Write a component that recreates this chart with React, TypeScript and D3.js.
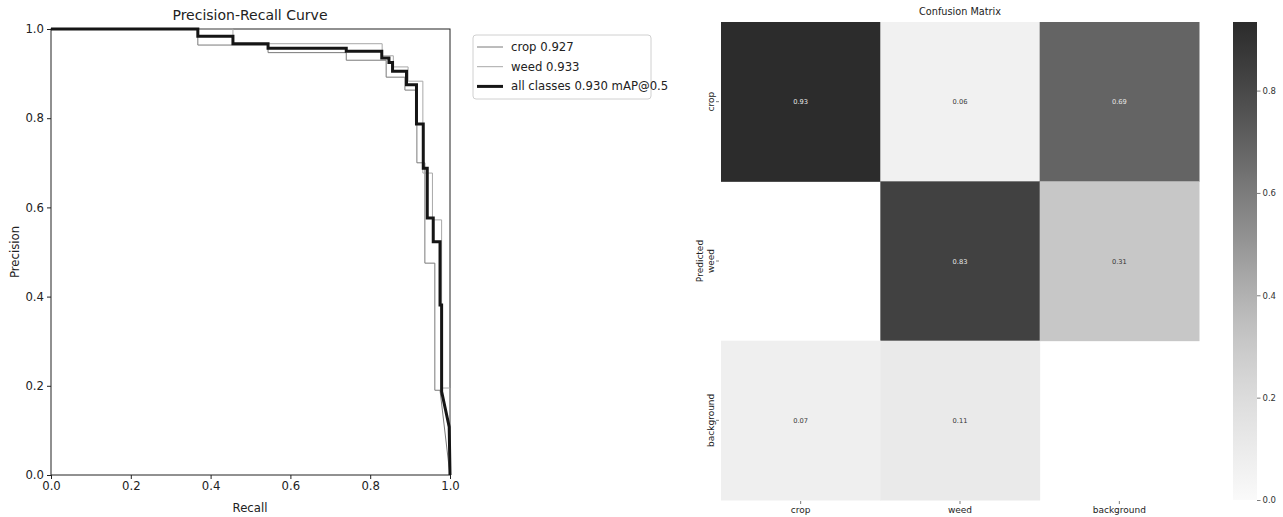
import { useEffect, useRef } from 'react'
import * as d3 from 'd3'

// precision-recall curves (recall, precision vertices)
const recallCrop = [0, 0.368, 0.368, 0.544, 0.544, 0.74, 0.74, 0.84, 0.84, 0.887, 0.887, 0.917, 0.917, 0.937, 0.937, 0.962, 0.962, 0.975, 1.0]
const precisionCrop = [1, 1, 0.964, 0.964, 0.947, 0.947, 0.93, 0.93, 0.892, 0.892, 0.863, 0.863, 0.70, 0.70, 0.475, 0.475, 0.19, 0.19, 0.0]

const recallWeed = [0, 0.456, 0.456, 0.83, 0.83, 0.858, 0.858, 0.895, 0.895, 0.932, 0.932, 0.956, 0.956, 0.979, 0.979, 1.0, 1.0]
const precisionWeed = [1, 1, 0.967, 0.967, 0.94, 0.94, 0.915, 0.915, 0.883, 0.883, 0.677, 0.677, 0.572, 0.572, 0.195, 0.195, 0.0]

const recallAll = [0, 0.368, 0.368, 0.456, 0.456, 0.544, 0.544, 0.74, 0.74, 0.829, 0.829, 0.847, 0.847, 0.856, 0.856, 0.891, 0.891, 0.916, 0.916, 0.933, 0.933, 0.943, 0.943, 0.958, 0.958, 0.975, 0.975, 0.979, 0.979, 0.998, 1.0]
const precisionAll = [1, 1, 0.984, 0.984, 0.967, 0.967, 0.957, 0.957, 0.95, 0.95, 0.935, 0.935, 0.925, 0.925, 0.905, 0.905, 0.875, 0.875, 0.787, 0.787, 0.688, 0.688, 0.576, 0.576, 0.523, 0.523, 0.381, 0.381, 0.187, 0.108, 0.0]

const legendLabels = ['crop 0.927', 'weed 0.933', 'all classes 0.930 mAP@0.5']
const prTicks = [0, 0.2, 0.4, 0.6, 0.8, 1.0]

// confusion matrix
const classNames = ['crop', 'weed', 'background']
const rowCrop = [0.93, 0.06, 0.69]
const rowWeed = [NaN, 0.83, 0.31]
const rowBackground = [0.07, 0.11, NaN]
const colorbarTicks = [0, 0.2, 0.4, 0.6, 0.8]

const FONT = 'DejaVu Sans, sans-serif'

function grayBlues(t: number) {
  const c = d3.rgb(d3.interpolateBlues(t))
  const l = Math.round(0.299 * c.r + 0.587 * c.g + 0.114 * c.b)
  return d3.rgb(l, l, l).formatHex()
}

function App() {
  const ref = useRef<SVGSVGElement>(null)
  useEffect(() => {
    document.body.style.margin = '0'
    const svg = d3.select(ref.current)
    svg.selectAll('*').remove()

    // ---------- PR curve ----------
    const x = d3.scaleLinear().domain([0, 1]).range([51, 450])
    const y = d3.scaleLinear().domain([0, 1]).range([475, 29])
    const pr = svg.append('g')

    const xAxis = pr.append('g').attr('transform', 'translate(0,475)')
      .call(d3.axisBottom(x).tickValues(prTicks).tickFormat(d3.format('.1f')).tickSizeOuter(0).tickSize(4).tickPadding(3))
    const yAxis = pr.append('g').attr('transform', 'translate(51,0)')
      .call(d3.axisLeft(y).tickValues(prTicks).tickFormat(d3.format('.1f')).tickSizeOuter(0).tickSize(4).tickPadding(3))
    for (const a of [xAxis, yAxis]) {
      a.selectAll('text').style('font-family', FONT).style('font-size', '11.7px').attr('fill', '#222')
      a.selectAll('line').attr('stroke', '#222')
      a.select('.domain').remove()
    }
    pr.append('rect').attr('x', 51).attr('y', 29).attr('width', 399).attr('height', 446)
      .attr('fill', 'none').attr('stroke', '#222').attr('stroke-width', 1)

    const line = (rs: number[], ps: number[]) =>
      d3.line<number>().x((_, i) => x(rs[i])).y((_, i) => y(ps[i]))(rs)

    const series = [
      { r: recallCrop, p: precisionCrop, color: '#7a7a7a', w: 1 },
      { r: recallWeed, p: precisionWeed, color: '#a8a8a8', w: 1 },
      { r: recallAll, p: precisionAll, color: '#151515', w: 3 },
    ]
    series.forEach(s => {
      pr.append('path').attr('d', line(s.r, s.p)).attr('fill', 'none')
        .attr('stroke', s.color).attr('stroke-width', s.w).attr('stroke-linejoin', 'miter')
    })

    pr.append('text').attr('x', 250).attr('y', 20).attr('text-anchor', 'middle')
      .style('font-family', FONT).style('font-size', '14px').attr('fill', '#222').text('Precision-Recall Curve')
    pr.append('text').attr('x', 250).attr('y', 512).attr('text-anchor', 'middle')
      .style('font-family', FONT).style('font-size', '11.7px').attr('fill', '#222').text('Recall')
    pr.append('text').attr('transform', 'translate(19,252)rotate(-90)').attr('text-anchor', 'middle')
      .style('font-family', FONT).style('font-size', '11.7px').attr('fill', '#222').text('Precision')

    // legend
    const lg = pr.append('g')
    lg.append('rect').attr('x', 473).attr('y', 35).attr('width', 178).attr('height', 64).attr('rx', 3)
      .attr('fill', '#fff').attr('stroke', '#d0d0d0')
    legendLabels.forEach((lab, i) => {
      const cy = 47 + i * 19.7
      lg.append('line').attr('x1', 477).attr('x2', 503).attr('y1', cy).attr('y2', cy)
        .attr('stroke', series[i].color).attr('stroke-width', series[i].w)
      lg.append('text').attr('x', 511).attr('y', cy + 4).style('font-family', FONT).style('font-size', '11.7px')
        .attr('fill', '#222').text(lab)
    })

    // ---------- Confusion matrix ----------
    const matrix = [rowCrop, rowWeed, rowBackground]
    const vmax = 0.934
    const bx = d3.scaleBand().domain(classNames).range([721, 1199])
    const by = d3.scaleBand().domain(classNames).range([22, 500])
    const color = (v: number) => grayBlues(v / vmax)
    const cm = svg.append('g')

    matrix.forEach((row, ri) => {
      row.forEach((v, ci) => {
        if (isNaN(v)) return
        cm.append('rect').attr('x', bx(classNames[ci])!).attr('y', by(classNames[ri])!)
          .attr('width', bx.bandwidth() + 0.5).attr('height', by.bandwidth() + 0.5).attr('fill', color(v))
        const g = d3.rgb(color(v)).r
        cm.append('text').attr('x', bx(classNames[ci])! + bx.bandwidth() / 2).attr('y', by(classNames[ri])! + by.bandwidth() / 2 + 2.5)
          .attr('text-anchor', 'middle').style('font-family', FONT).style('font-size', '6.7px')
          .attr('fill', g < 140 ? '#e8e8e8' : '#333').text(v.toFixed(2))
      })
    })

    cm.append('text').attr('x', 960).attr('y', 15).attr('text-anchor', 'middle')
      .style('font-family', FONT).style('font-size', '9.7px').attr('fill', '#222').text('Confusion Matrix')

    // x tick labels
    classNames.forEach(c => {
      const cx = bx(c)! + bx.bandwidth() / 2
      cm.append('line').attr('x1', cx).attr('x2', cx).attr('y1', 501).attr('y2', 504).attr('stroke', '#444').attr('stroke-width', 0.7)
      cm.append('text').attr('x', cx).attr('y', 513).attr('text-anchor', 'middle')
        .style('font-family', FONT).style('font-size', '9px').attr('fill', '#222').text(c)
    })
    // y tick labels
    classNames.forEach(c => {
      const cy = by(c)! + by.bandwidth() / 2
      cm.append('line').attr('x1', 716).attr('x2', 719).attr('y1', cy).attr('y2', cy).attr('stroke', '#444').attr('stroke-width', 0.7)
      cm.append('text').attr('transform', `translate(714,${cy})rotate(-90)`).attr('text-anchor', 'middle')
        .style('font-family', FONT).style('font-size', '9px').attr('fill', '#222').text(c)
    })
    cm.append('text').attr('transform', 'translate(703,261)rotate(-90)').attr('text-anchor', 'middle')
      .style('font-family', FONT).style('font-size', '9px').attr('fill', '#222').text('Predicted')

    // colorbar
    const cbY = d3.scaleLinear().domain([0, vmax]).range([500, 22])
    const defs = svg.append('defs')
    const grad = defs.append('linearGradient').attr('id', 'cbgrad').attr('x1', 0).attr('x2', 0).attr('y1', 1).attr('y2', 0)
    d3.range(0, 1.0001, 0.05).forEach(t => {
      grad.append('stop').attr('offset', t).attr('stop-color', grayBlues(t))
    })
    cm.append('rect').attr('x', 1233).attr('y', 22).attr('width', 24).attr('height', 478).attr('fill', 'url(#cbgrad)')
    const cbAxis = cm.append('g').attr('transform', 'translate(1257,0)')
      .call(d3.axisRight(cbY).tickValues(colorbarTicks).tickFormat(d3.format('.1f')).tickSize(3.5).tickPadding(2))
    cbAxis.select('.domain').remove()
    cbAxis.selectAll('line').attr('stroke', '#444').attr('stroke-width', 0.7)
    cbAxis.selectAll('text').style('font-family', FONT).style('font-size', '8.5px').attr('fill', '#333')
  }, [])

  return (
    <div>
      <svg ref={ref} width={1283} height={517} style={{ display: 'block', background: '#fff' }} />
    </div>
  )
}

export default App
